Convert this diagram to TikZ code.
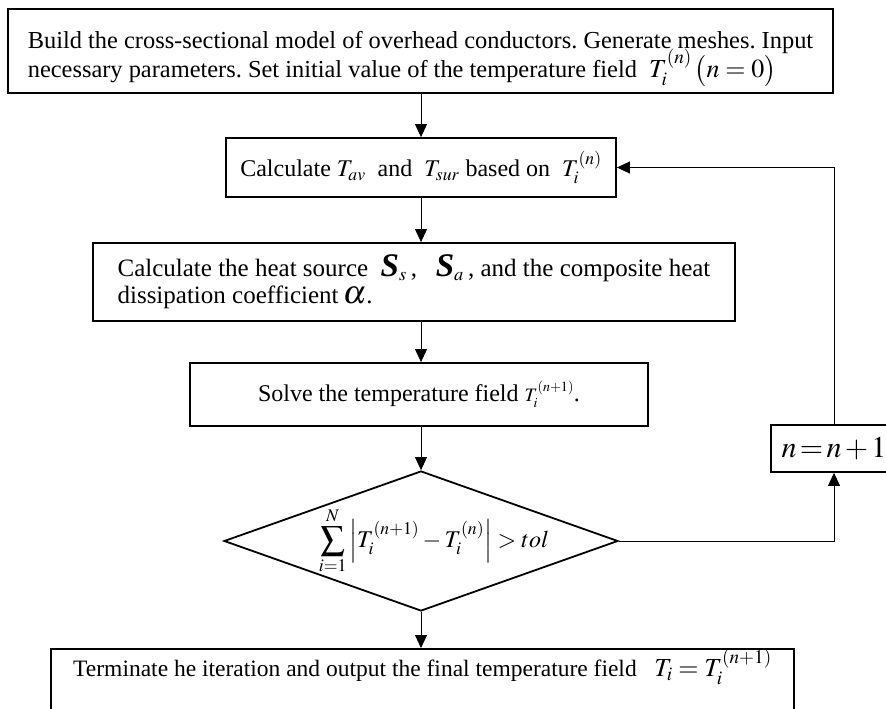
\documentclass[tikz,border=0pt]{standalone}
\usepackage{mathptmx}
\usepackage{amsmath}
\usepackage{fontspec}
\setmainfont{Liberation Serif}
\usetikzlibrary{arrows.meta,positioning,shapes.geometric}
\newcommand{\fsz}[1]{\fontsize{#1}{#1}\selectfont}
\tikzset{
  box/.style={draw,line width=1.8pt,inner xsep=8pt,inner ysep=4pt},
  arr/.style={-{Triangle[length=13pt,width=12pt]},line width=0.9pt},
  dec/.style={diamond,draw,line width=1.8pt,inner sep=0pt,aspect=2.8,
              minimum width=394pt,minimum height=140pt}
}
\begin{document}
\frenchspacing
\begin{tikzpicture}[x=1pt,y=-1pt]
    \useasboundingbox (0,0) rectangle (886,709);
    \node[box,minimum width=825pt,minimum height=84pt,align=left,
          font=\fontsize{24.4}{29}\selectfont] (b1) at (420.5,51)
      {\rule{0pt}{29pt}Build the cross-sectional model of overhead conductors. Generate meshes. Input\\
       necessary parameters. Set initial value of the temperature field\ \ {\fsz{26}\smash{$T_i^{(n)}\,\big(n=0\big)$}}};
    \node[box,minimum width=390pt,minimum height=59pt,font=\fsz{24}] (b2) at (421,167.5)
      {Calculate\ $T_{av}$\ \ and\ \ $T_{sur}$ based on\ \ $T_i^{(n)}$};
    \node[box,minimum width=642pt,minimum height=78pt,align=left,
          font=\fontsize{25}{27}\selectfont] (b3) at (414,282)
      {Calculate the heat source\ \ {\fsz{33}\textbf{\textit{S}}}$_s$\,,\ \ \ {\fsz{33}\textbf{\textit{S}}}$_a$\,, and the composite heat\\
       dissipation coefficient\,{\fsz{33}$\alpha$}.};
    \node[box,minimum width=458pt,minimum height=63pt,font=\fsz{24}] (b4) at (419,394.5)
      {Solve the temperature field\ {\fsz{19}$T_{i}^{(n+1)}$}.\hspace{14pt}};
    \node[dec] (d1) at (421,541) {};
    \node[font=\fsz{24},inner sep=0pt] (d1t) at ([xshift=13pt]d1.center)
      {$\displaystyle\sum_{i=1}^{N}\left|T_i^{(n+1)}-T_i^{(n)}\right|>tol$};
    \node[box,minimum width=126pt,minimum height=47pt,inner sep=2pt,font=\fsz{30}] (nb) at (834,448.5)
      {$n\,{=}\,n\,{+}\,1$};
    \node[box,anchor=north,minimum width=743pt,text height=20pt,text depth=40pt,inner ysep=8pt,
          font=\fsz{23.5}] (b5) at (422.5,648)
      {Terminate he iteration and output the final temperature field\ \ \ {\fsz{26}$T_i=T_i^{(n+1)}$}};
    \draw[arr] (b1.south -| d1.north) -- (b2.north -| d1.north);
    \draw[arr] (b2.south -| d1.north) -- (b3.north -| d1.north);
    \draw[arr] (b3.south -| d1.north) -- (b4.north -| d1.north);
    \draw[arr] (b4.south -| d1.north) -- (d1.north);
    \draw[arr] (d1.south) -- (b5.north -| d1.south);
    \draw[arr] (d1.east) -| (nb.south);
    \draw[arr] (nb.north) |- (b2.east);
\end{tikzpicture}
\end{document}
